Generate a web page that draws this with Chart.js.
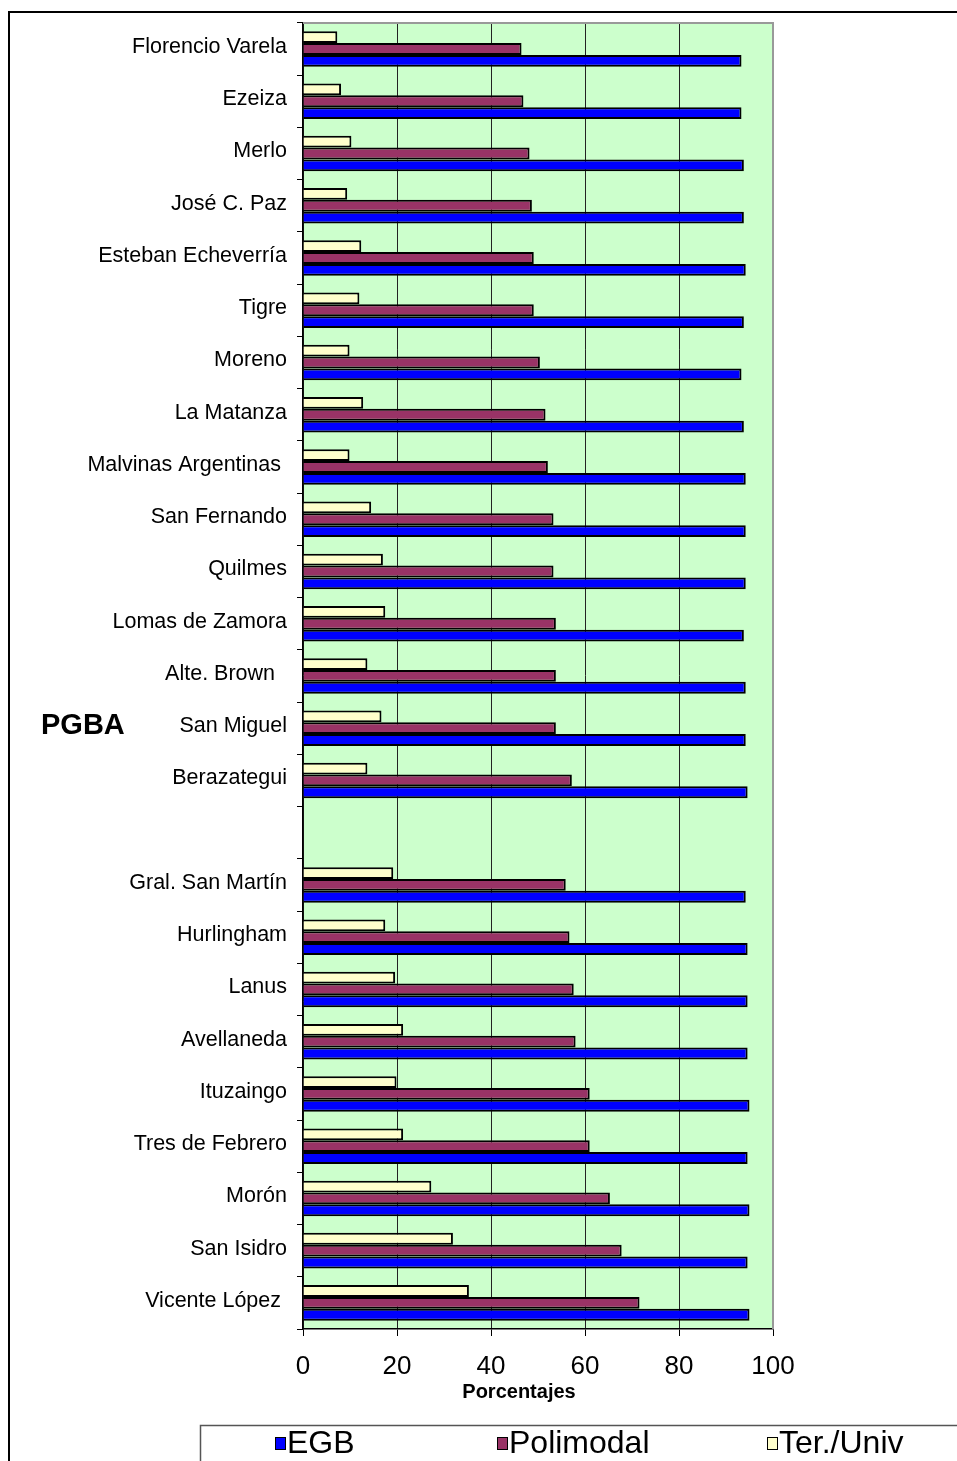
<!DOCTYPE html>
<html lang="es">
<head>
<meta charset="UTF-8">
<title>PGBA - Porcentajes por nivel</title>
<script src="https://cdn.jsdelivr.net/npm/chart.js@4.4.0/dist/chart.umd.min.js"></script>
<style>
  html, body { margin: 0; padding: 0; background: #fff; }
  #wrap { position: relative; width: 957px; height: 1461px; }
</style>
</head>
<body>
<div id="wrap"><canvas id="chart" width="957" height="1461"></canvas></div>
<script>
// Partidos, de arriba hacia abajo ('' deja el hueco entre los dos grupos)
const partidos = [
  'Florencio Varela', 'Ezeiza', 'Merlo', 'José C. Paz', 'Esteban Echeverría',
  'Tigre', 'Moreno', 'La Matanza', 'Malvinas Argentinas ', 'San Fernando',
  'Quilmes', 'Lomas de Zamora', 'Alte. Brown  ', 'San Miguel', 'Berazategui',
  '',
  'Gral. San Martín', 'Hurlingham', 'Lanus', 'Avellaneda', 'Ituzaingo',
  'Tres de Febrero', 'Morón', 'San Isidro', 'Vicente López '
];

const egb = [
  93.3, 93.3, 93.8, 93.8, 94.2, 93.8, 93.3, 93.8, 94.2, 94.2,
  94.2, 93.8, 94.2, 94.2, 94.6,
  null,
  94.2, 94.6, 94.6, 94.6, 95.0, 94.6, 95.0, 94.6, 95.0
];

const polimodal = [
  46.5, 46.9, 48.2, 48.7, 49.1, 49.1, 50.4, 51.6, 52.1, 53.3,
  53.3, 53.8, 53.8, 53.8, 57.2,
  null,
  55.9, 56.7, 57.6, 58.0, 61.0, 61.0, 65.3, 67.8, 71.6
];

const terUniv = [
  7.3, 8.1, 10.3, 9.4, 12.4, 12.0, 9.9, 12.8, 9.9, 14.5,
  17.0, 17.5, 13.7, 16.7, 13.7,
  null,
  19.2, 17.5, 19.6, 21.3, 19.9, 21.3, 27.3, 31.9, 35.3
];

const xTicks = [0, 20, 40, 60, 80, 100];

const FONT = 'Liberation Sans, Arial, sans-serif';

// fondo verde del área de trazado y marco de la figura
const frame = {
  id: 'frame',
  beforeDraw(chart) {
    const { ctx, chartArea: a } = chart;
    ctx.save();
    ctx.fillStyle = '#fff';
    ctx.fillRect(0, 0, chart.width, chart.height);
    ctx.fillStyle = '#CCFFCC';
    ctx.fillRect(a.left, a.top, a.right - a.left, a.bottom - a.top);
    ctx.restore();
  },
  afterDraw(chart) {
    const { ctx, chartArea: a } = chart;
    ctx.save();
    // borde gris superior y derecho del área
    ctx.strokeStyle = '#999';
    ctx.lineWidth = 2;
    ctx.beginPath();
    ctx.moveTo(a.left, a.top);
    ctx.lineTo(a.right, a.top);
    ctx.lineTo(a.right, a.bottom);
    ctx.stroke();
    // marco exterior
    ctx.strokeStyle = '#000';
    ctx.lineWidth = 2;
    ctx.beginPath();
    ctx.moveTo(9, 1461);
    ctx.lineTo(9, 12);
    ctx.lineTo(957, 12);
    ctx.stroke();

    // rótulos sueltos
    ctx.fillStyle = '#000';
    ctx.textBaseline = 'middle';
    ctx.textAlign = 'left';
    ctx.font = 'bold 29px ' + FONT;
    ctx.fillText('PGBA', 41, 726);
    ctx.textAlign = 'center';
    ctx.font = 'bold 20px ' + FONT;
    ctx.fillText('Porcentajes', 519, 1392);

    // leyenda
    ctx.strokeStyle = '#555';
    ctx.lineWidth = 1.5;
    ctx.strokeRect(200.5, 1425.5, 762, 40);
    const items = [
      { ds: 2, x: 275 },
      { ds: 1, x: 497 },
      { ds: 0, x: 767 }
    ];
    ctx.font = '32px ' + FONT;
    ctx.textAlign = 'left';
    items.forEach(it => {
      const ds = chart.data.datasets[it.ds];
      ctx.fillStyle = ds.backgroundColor;
      ctx.fillRect(it.x, 1437, 10, 12);
      ctx.strokeStyle = '#000';
      ctx.lineWidth = 1;
      ctx.strokeRect(it.x + 0.5, 1437.5, 10, 12);
      ctx.fillStyle = '#000';
      ctx.fillText(ds.label, it.x + 12, 1444);
    });
    ctx.restore();
  }
};

new Chart(document.getElementById('chart'), {
  type: 'bar',
  data: {
    labels: partidos,
    datasets: [
      { label: 'Ter./Univ', data: terUniv, backgroundColor: '#FFFFCC' },
      { label: 'Polimodal', data: polimodal, backgroundColor: '#993366' },
      { label: 'EGB', data: egb, backgroundColor: '#0000FF' }
    ]
  },
  options: {
    indexAxis: 'y',
    responsive: false,
    animation: false,
    devicePixelRatio: 1,
    layout: { padding: { top: 17, right: 184, left: 0, bottom: 0 } },
    datasets: {
      bar: {
        categoryPercentage: 0.68,
        barPercentage: 1.0,
        borderColor: '#000',
        borderWidth: 2
      }
    },
    plugins: {
      legend: { display: false },
      tooltip: { enabled: false }
    },
    scales: {
      x: {
        min: 0,
        max: 100,
        afterBuildTicks(scale) {
          scale.ticks = xTicks.map(v => ({ value: v }));
        },
        afterFit(scale) { scale.height = 132; },
        ticks: {
          color: '#000',
          font: { family: FONT, size: 26 },
          padding: 15,
          maxRotation: 0
        },
        grid: {
          color: c => (c.tick && c.tick.value === 100) ? '#999' : '#222',
          lineWidth: 1,
          tickLength: 7,
          tickColor: '#000'
        },
        border: { color: '#000', width: 1.5 }
      },
      y: {
        afterFit(scale) { scale.width = 303; },
        ticks: {
          color: '#000',
          font: { family: FONT, size: 21.5 },
          padding: 10,
          labelOffset: -2,
          autoSkip: false
        },
        grid: {
          offset: true,
          drawOnChartArea: false,
          tickLength: 6,
          tickColor: '#000'
        },
        border: { color: '#000', width: 1.5 }
      }
    }
  },
  plugins: [frame]
});
</script>
</body>
</html>
